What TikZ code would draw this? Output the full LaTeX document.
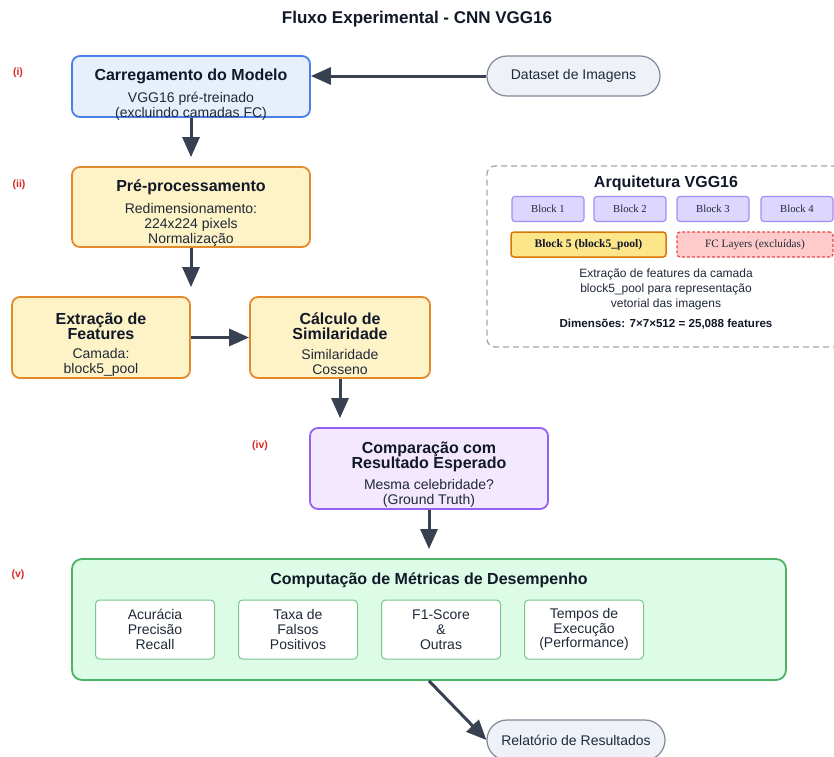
\documentclass[tikz,border=0pt]{standalone}
\usepackage{fontspec}
\setmainfont{Liberation Sans}
\newfontfamily\serifblk{Liberation Serif}
\usetikzlibrary{arrows.meta}
\definecolor{arrowc}{HTML}{374151}
\definecolor{txtc}{HTML}{111827}
\definecolor{bodyc}{HTML}{1F2937}
\definecolor{bluef}{HTML}{E6F0FD}
\definecolor{blueb}{HTML}{4A80EA}
\definecolor{orf}{HTML}{FEF3C7}
\definecolor{orb}{HTML}{E38B2C}
\definecolor{purf}{HTML}{F3E8FF}
\definecolor{purb}{HTML}{9462F3}
\definecolor{grf}{HTML}{DCFCE7}
\definecolor{grb}{HTML}{4CB266}
\definecolor{grib}{HTML}{7BC68F}
\definecolor{elf}{HTML}{EEF2F8}
\definecolor{elb}{HTML}{7F8A99}
\definecolor{dashc}{HTML}{A3A8B0}
\definecolor{blkf}{HTML}{DDD6FE}
\definecolor{blkb}{HTML}{A78BFA}
\definecolor{b5f}{HTML}{FDE68A}
\definecolor{b5b}{HTML}{D97706}
\definecolor{fcf}{HTML}{FECACA}
\definecolor{fcb}{HTML}{EF4444}
\definecolor{lblc}{HTML}{DC2626}
\newcommand\mainttl{\fontsize{17}{18}\selectfont\bfseries}
\newcommand\boxttl{\fontsize{16}{15}\selectfont\bfseries}
\newcommand\boxbody{\fontsize{14}{14.8}\selectfont}
\tikzset{
  box/.style={draw, rectangle, rounded corners=8pt, line width=1.8pt, inner sep=0pt},
  bluebox/.style={box, draw=blueb, fill=bluef},
  orbox/.style={box, draw=orb, fill=orf},
  purbox/.style={box, draw=purb, fill=purf},
  grbox/.style={box, draw=grb, fill=grf, rounded corners=10pt},
  metbox/.style={draw=grib, fill=white, rectangle, rounded corners=4pt, line width=1pt, minimum width=119pt, minimum height=59pt, align=center, inner sep=0pt, font=\boxbody, text=bodyc},
  stadium/.style={draw=elb, fill=elf, rectangle, rounded corners=19.9pt, line width=1.2pt, minimum height=40pt, font=\boxbody, text=bodyc},
  ttl/.style={align=center, font=\boxttl, text=txtc, inner sep=0pt},
  body/.style={align=center, font=\boxbody, text=bodyc, inner sep=0pt},
  lbl/.style={font=\fontsize{10.5}{11}\selectfont\bfseries, text=lblc, inner sep=0pt},
  arr/.style={draw=arrowc, line width=3pt, -{Triangle[length=20pt,width=17pt]}},
  blk/.style={draw=blkb, fill=blkf, rectangle, rounded corners=3pt, line width=1.2pt, minimum width=72pt, minimum height=25pt, font=\serifblk\fontsize{10.7}{11}\selectfont, text=bodyc, inner sep=0pt},
}
\begin{document}
\begin{tikzpicture}[x=1pt,y=-1pt]
\useasboundingbox (0,0) rectangle (834,756);
\fill[white] (0,0) rectangle (834,756);
% title
\node[font=\mainttl, text=txtc, inner sep=0pt] (title) at (417,19) {Fluxo Experimental - CNN VGG16};
% labels
\node[lbl] (l1) at (18,73) {(i)};
\node[lbl] (l2) at (19,185) {(ii)};
\node[lbl] (l4) at (260,446) {(iv)};
\node[lbl] (l5) at (18,575) {(v)};
% boxes
\node[bluebox, minimum width=238pt, minimum height=61pt] (m1) at (191,86.5) {};
\node[ttl] (m1t) at (191,76) {Carregamento do Modelo};
\node[body] (m1b) at (191,106) {VGG16 pré-treinado\\(excluindo camadas FC)};

\node[orbox, minimum width=238pt, minimum height=80pt] (m2) at (191,207) {};
\node[ttl] (m2t) at (191,187) {Pré-processamento};
\node[body] (m2b) at (191,225) {Redimensionamento:\\224x224 pixels\\Normalização};

\node[orbox, minimum width=178pt, minimum height=81pt] (m3) at (101,337.5) {};
\node[ttl] (m3t) at (101,326) {Extração de\\Features};
\node[body] (m3b) at (101,362) {Camada:\\block5\_pool};

\node[orbox, minimum width=180pt, minimum height=81pt] (m4) at (340,337.5) {};
\node[ttl] (m4t) at (340,326) {Cálculo de\\Similaridade};
\node[body] (m4b) at (340,362) {Similaridade\\Cosseno};

\node[purbox, minimum width=238pt, minimum height=81pt] (m5) at (429,468.5) {};
\node[ttl] (m5t) at (429,457) {Comparação com\\Resultado Esperado};
\node[body] (m5b) at (429,493) {Mesma celebridade?\\(Ground Truth)};

\node[grbox, minimum width=714pt, minimum height=121pt] (met) at (429,619.5) {};
\node[ttl] (mett) at (429,580) {Computação de Métricas de Desempenho};
\node[metbox] (k1) at (155,629.5) {Acurácia\\Precisão\\Recall};
\node[metbox] (k2) at (298,629.5) {Taxa de\\Falsos\\Positivos};
\node[metbox] (k3) at (441,629.5) {F1-Score\\\&\\Outras};
\node[metbox] (k4) at (584,629.5) {Tempos de\\Execução\\(Performance)};

\node[stadium, minimum width=173pt] (ds) at (573.5,76) {Dataset de Imagens};
\node[stadium, minimum width=178pt] (rel) at (576,740) {Relatório de Resultados};

% architecture panel
\node[draw=dashc, dash pattern=on 6pt off 4pt, line width=1.3pt, rectangle, rounded corners=8pt, minimum width=358pt, minimum height=181pt, fill=white] (arch) at (666,256.5) {};
\node[ttl] (archt) at (666,183) {Arquitetura VGG16};
\node[blk] (b1) at (548,209) {Block 1};
\node[blk] (b2) at (630,209) {Block 2};
\node[blk] (b3) at (713,209) {Block 3};
\node[blk] (b4) at (797,209) {Block 4};
\node[blk, draw=b5b, fill=b5f, line width=1.5pt, minimum width=155pt, font=\serifblk\fontsize{11.6}{12}\selectfont\bfseries, text=txtc] (b5) at (588.5,244.5) {Block 5 (block5\_pool)};
\node[blk, draw=fcb, fill=fcf, dash pattern=on 3pt off 2pt, minimum width=156pt, font=\serifblk\fontsize{11.2}{12}\selectfont] (fc) at (755,244.5) {FC Layers (excluídas)};
\node[body, font=\fontsize{12}{15}\selectfont] (archd) at (666,289) {Extração de features da camada\\block5\_pool para representação\\vetorial das imagens};
\node[body, font=\fontsize{11.6}{12}\selectfont\bfseries, text=txtc] (archdim) at (666,324) {Dimensões: 7×7×512 = 25,088 features};

% arrows
\draw[arr] (ds.west) -- (ds.west -| m1.east);
\draw[arr, shorten >=9pt] (m1.south) -- (m2.north);
\draw[arr, shorten >=9pt] (m2.south) -- (m2.south |- m3.north);
\draw[arr] (m3.east) -- (m4.west);
\draw[arr, shorten >=9pt] (m4.south) -- (m4.south |- m5.north);
\draw[arr, shorten >=9pt] (m5.south) -- (m5.south |- met.north);
\draw[arr] (met.south) -- (rel.west);
\end{tikzpicture}
\end{document}
